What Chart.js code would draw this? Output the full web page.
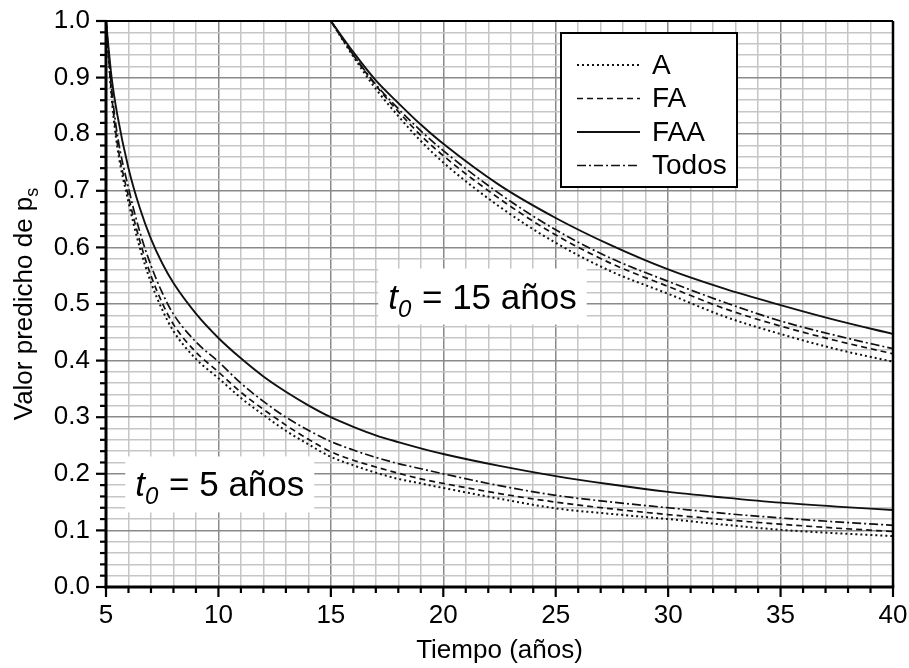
<!DOCTYPE html>
<html><head><meta charset="utf-8">
<script src="https://cdn.jsdelivr.net/npm/chart.js@4/dist/chart.umd.min.js"></script>
<style>html,body{margin:0;padding:0;background:#fff}</style>
</head><body>
<canvas id="c" width="909" height="668"></canvas>
<script>
// ---- data ----
const seriesLabels = ['A', 'FA', 'FAA', 'Todos'];
const xTickLabels = [5, 10, 15, 20, 25, 30, 35, 40];
const yTickLabels = [0.0, 0.1, 0.2, 0.3, 0.4, 0.5, 0.6, 0.7, 0.8, 0.9, 1.0];

// t0 = 5 years
const timesT5 = [5, 5.25, 5.5, 6, 6.5, 7, 7.5, 8, 9, 10, 11, 12, 13, 14, 15, 16, 17, 18, 19, 20, 22.5, 25, 27.5, 30, 32.5, 35, 37.5, 40];
const A_t5     = [1.0, 0.865, 0.778, 0.68, 0.60, 0.538, 0.49, 0.452, 0.403, 0.369, 0.334, 0.304, 0.276, 0.252, 0.230, 0.215, 0.202, 0.191, 0.183, 0.175, 0.156, 0.139, 0.129, 0.120, 0.110, 0.101, 0.095, 0.090];
const FA_t5    = [1.0, 0.87, 0.785, 0.69, 0.612, 0.55, 0.502, 0.464, 0.415, 0.38, 0.344, 0.314, 0.286, 0.261, 0.239, 0.224, 0.212, 0.201, 0.191, 0.183, 0.165, 0.150, 0.138, 0.128, 0.119, 0.111, 0.104, 0.098];
const FAA_t5   = [1.0, 0.90, 0.835, 0.74, 0.67, 0.615, 0.572, 0.537, 0.483, 0.44, 0.404, 0.372, 0.345, 0.321, 0.30, 0.283, 0.268, 0.256, 0.245, 0.235, 0.214, 0.196, 0.181, 0.168, 0.158, 0.149, 0.142, 0.136];
const Todos_t5 = [1.0, 0.88, 0.80, 0.705, 0.628, 0.568, 0.52, 0.482, 0.433, 0.398, 0.36, 0.328, 0.30, 0.277, 0.257, 0.242, 0.229, 0.218, 0.209, 0.20, 0.179, 0.162, 0.15, 0.14, 0.13, 0.122, 0.115, 0.109];

// t0 = 15 years
const timesT15  = [15, 16, 17, 18, 19, 20, 22.5, 25, 27.5, 30, 32.5, 35, 37.5, 40];
const A_t15     = [1.0, 0.937, 0.88, 0.832, 0.788, 0.75, 0.672, 0.608, 0.557, 0.518, 0.478, 0.447, 0.42, 0.398];
const FA_t15    = [1.0, 0.94, 0.886, 0.84, 0.798, 0.762, 0.686, 0.622, 0.571, 0.531, 0.492, 0.461, 0.435, 0.412];
const FAA_t15   = [1.0, 0.945, 0.895, 0.855, 0.817, 0.783, 0.71, 0.652, 0.603, 0.561, 0.527, 0.498, 0.471, 0.447];
const Todos_t15 = [1.0, 0.94, 0.888, 0.845, 0.806, 0.771, 0.695, 0.631, 0.58, 0.54, 0.503, 0.47, 0.444, 0.421];

// ---- styles ----
const FONT = '"Liberation Sans", Arial, Helvetica, sans-serif';
const styles = {
  'A':     {dash: [2, 3], width: 2},
  'FA':    {dash: [6, 4], width: 1.7},
  'FAA':   {dash: [], width: 1.9},
  'Todos': {dash: [9, 3, 2, 3], width: 1.7}
};
const toPts = (xs, ys) => xs.map((x, i) => ({x: x, y: ys[i]}));
function ds(label, xs, ys, showInLegend) {
  const s = styles[label];
  return {
    label: label, data: toPts(xs, ys), borderColor: '#111', borderWidth: s.width,
    borderDash: s.dash, pointRadius: 0, fill: false, cubicInterpolationMode: 'monotone',
    borderCapStyle: 'butt', legendEntry: showInLegend
  };
}
const datasets = [
  ds('A', timesT5, A_t5, true), ds('FA', timesT5, FA_t5, true),
  ds('FAA', timesT5, FAA_t5, true), ds('Todos', timesT5, Todos_t5, true),
  ds('A', timesT15, A_t15, false), ds('FA', timesT15, FA_t15, false),
  ds('FAA', timesT15, FAA_t15, false), ds('Todos', timesT15, Todos_t15, false)
];

const isMajorX = v => xTickLabels.includes(Math.round(v * 1000) / 1000);
const isMajorY = v => Math.abs(v * 10 - Math.round(v * 10)) < 1e-6;
const zeroPad = s => { s.paddingTop = 0; s.paddingBottom = 0; s.paddingLeft = 0; s.paddingRight = 0; };

const decorPlugin = {
  id: 'decor',
  beforeDatasetsDraw(chart) {
    const ctx = chart.ctx, xs = chart.scales.x, ys = chart.scales.y;
    // annotation labels with white background
    const notes = [{x: 17.55, y: 0.492, num: '15'}, {x: 6.3, y: 0.16, num: '5'}];
    notes.forEach(n => {
      const px = xs.getPixelForValue(n.x), py = ys.getPixelForValue(n.y);
      ctx.save();
      ctx.font = 'italic 35px ' + FONT;
      const wt = ctx.measureText('t').width;
      ctx.font = 'italic 24px ' + FONT;
      const w0 = ctx.measureText('0').width;
      ctx.font = '35px ' + FONT;
      const rest = ' = ' + n.num + ' años';
      const wr = ctx.measureText(rest).width;
      const total = wt + w0 + 1 + wr;
      ctx.fillStyle = '#fff';
      ctx.fillRect(px - 10, py - 40, total + 20, 56);
      ctx.fillStyle = '#000';
      ctx.textBaseline = 'alphabetic';
      ctx.textAlign = 'left';
      ctx.font = 'italic 35px ' + FONT;
      ctx.fillText('t', px, py);
      ctx.font = 'italic 24px ' + FONT;
      ctx.fillText('0', px + wt, py + 8);
      ctx.font = '35px ' + FONT;
      ctx.fillText(rest, px + wt + w0 + 1, py);
      ctx.restore();
    });
  },
  afterDraw(chart) {
    const ctx = chart.ctx, a = chart.chartArea, xs = chart.scales.x, ys = chart.scales.y;
    ctx.save();
    // frame
    ctx.strokeStyle = '#000';
    ctx.lineWidth = 2;
    ctx.beginPath(); ctx.moveTo(a.left, a.top); ctx.lineTo(a.right, a.top); ctx.stroke();
    ctx.lineWidth = 2.5;
    ctx.beginPath(); ctx.moveTo(a.right, a.top); ctx.lineTo(a.right, a.bottom); ctx.stroke();
    ctx.lineWidth = 3;
    ctx.beginPath(); ctx.moveTo(a.left, a.top - 1); ctx.lineTo(a.left, a.bottom + 1.5); ctx.stroke();
    ctx.beginPath(); ctx.moveTo(a.left - 1.5, a.bottom); ctx.lineTo(a.right + 1.25, a.bottom); ctx.stroke();
    // tick marks
    ctx.lineWidth = 2.2;
    xs.ticks.forEach(t => {
      const p = xs.getPixelForValue(t.value);
      const len = isMajorX(t.value) ? 10 : 6;
      ctx.beginPath(); ctx.moveTo(p, a.bottom); ctx.lineTo(p, a.bottom + len); ctx.stroke();
    });
    ys.ticks.forEach(t => {
      const p = ys.getPixelForValue(t.value);
      const len = isMajorY(t.value) ? 10 : 6;
      ctx.beginPath(); ctx.moveTo(a.left, p); ctx.lineTo(a.left - len, p); ctx.stroke();
    });
    // axis titles
    ctx.fillStyle = '#000';
    ctx.font = '26px ' + FONT;
    ctx.textAlign = 'center';
    ctx.textBaseline = 'alphabetic';
    ctx.fillText('Tiempo (años)', (a.left + a.right) / 2, 658);
    const main = 'Valor predicho de p';
    const mw = ctx.measureText(main).width;
    ctx.font = '18px ' + FONT;
    const sw = ctx.measureText('s').width;
    const tw = mw + sw;
    ctx.translate(32, (a.top + a.bottom) / 2);
    ctx.rotate(-Math.PI / 2);
    ctx.textAlign = 'left';
    ctx.font = '26px ' + FONT;
    ctx.fillText(main, -tw / 2, 0);
    ctx.font = '18px ' + FONT;
    ctx.fillText('s', -tw / 2 + mw, 6);
    ctx.restore();

    // legend
    ctx.save();
    const lx = 561, ly = 33, lw = 176, lh = 154;
    ctx.fillStyle = '#fff';
    ctx.fillRect(lx, ly, lw, lh);
    ctx.strokeStyle = '#000';
    ctx.lineWidth = 2;
    ctx.strokeRect(lx, ly, lw, lh);
    const entries = chart.data.datasets.filter(d => d.legendEntry);
    entries.forEach((d, i) => {
      const y = 65 + i * 33.5;
      ctx.strokeStyle = '#111';
      ctx.lineWidth = d.borderWidth;
      ctx.setLineDash(d.borderDash);
      ctx.beginPath(); ctx.moveTo(577, y); ctx.lineTo(640, y); ctx.stroke();
      ctx.setLineDash([]);
      ctx.fillStyle = '#000';
      ctx.font = '28px ' + FONT;
      ctx.textAlign = 'left';
      ctx.textBaseline = 'middle';
      ctx.fillText(d.label, 652, y + 1);
    });
    ctx.restore();
  }
};

new Chart(document.getElementById('c'), {
  type: 'line',
  data: {datasets: datasets},
  options: {
    responsive: false, animation: false, devicePixelRatio: 1,
    layout: {padding: {top: 21, right: 16, left: 0, bottom: 0}},
    plugins: {legend: {display: false}, tooltip: {enabled: false}},
    scales: {
      x: {
        type: 'linear', min: 5, max: 40,
        afterFit: s => { s.height = 81; zeroPad(s); },
        ticks: {
          stepSize: 1, autoSkip: false, maxRotation: 0, padding: 13, color: '#000',
          font: {size: 26, family: FONT},
          callback: v => isMajorX(v) ? String(v) : ''
        },
        grid: {
          drawTicks: false,
          color: c => (c.tick && isMajorX(c.tick.value)) ? '#8a8a8a' : '#c6c6c6',
          lineWidth: 1.5
        },
        border: {display: false}
      },
      y: {
        type: 'linear', min: 0, max: 1,
        afterFit: s => { s.width = 106; zeroPad(s); },
        ticks: {
          stepSize: 0.02, autoSkip: false, padding: 16, color: '#000',
          font: {size: 26, family: FONT},
          callback: v => isMajorY(v) ? yTickLabels[Math.round(v * 10)].toFixed(1) : ''
        },
        grid: {
          drawTicks: false,
          color: c => (c.tick && isMajorY(c.tick.value)) ? '#8a8a8a' : '#c6c6c6',
          lineWidth: 1.5
        },
        border: {display: false}
      }
    }
  },
  plugins: [decorPlugin]
});
</script>
</body></html>
